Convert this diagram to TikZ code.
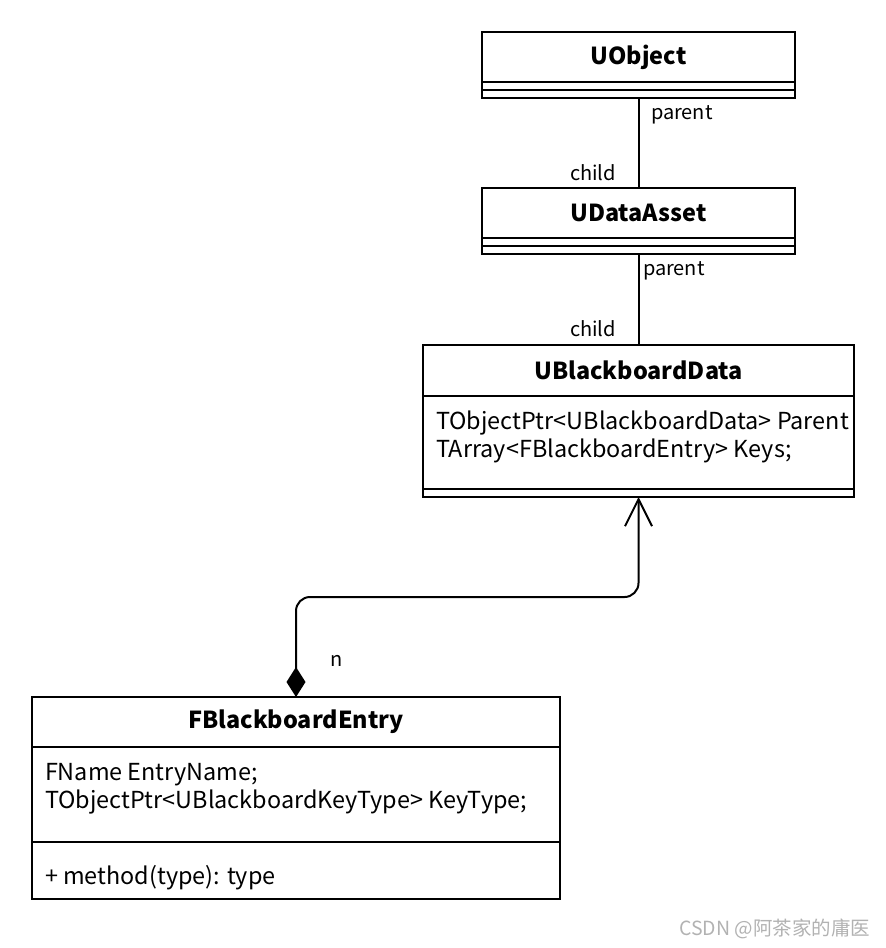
\documentclass[tikz,border=0pt]{standalone}
\usepackage{fontspec}
\setmainfont{Noto Sans CJK SC}
\newfontfamily\cjkfont{Noto Sans CJK SC}
\usetikzlibrary{arrows.meta,positioning}

\begin{document}
\begin{tikzpicture}[x=1pt,y=-1pt,line width=2pt,font=\fontsize{23.4}{28}\selectfont,
    box/.style={draw, anchor=north west, inner sep=0pt, outer sep=0pt},
    title/.style={box, font=\fontsize{23.4}{28}\selectfont\bfseries},
    attr/.style={anchor=north west, align=left, inner sep=0pt},
    lbl/.style={inner sep=0pt, font=\fontsize{20}{24}\selectfont}]
    \useasboundingbox (0,0) rectangle (886,948);

    % UObject
    \node[title, minimum width=313, minimum height=50] (uobj) at (482,32) {UObject};
    \node[box, minimum width=313, minimum height=8] (uobj-a) at (uobj.south west) {};
    \node[box, minimum width=313, minimum height=8] (uobj-m) at (uobj-a.south west) {};

    % UDataAsset
    \node[title, minimum width=313, minimum height=50] (uda) at (482,188) {UDataAsset};
    \node[box, minimum width=313, minimum height=8] (uda-a) at (uda.south west) {};
    \node[box, minimum width=313, minimum height=8] (uda-m) at (uda-a.south west) {};

    % UBlackboardData
    \node[title, minimum width=431, minimum height=51] (ubd) at (423,345) {UBlackboardData};
    \node[box, minimum width=431, minimum height=93] (ubd-a) at (ubd.south west) {};
    \node[box, minimum width=431, minimum height=8] (ubd-m) at (ubd-a.south west) {};
    \node[attr] (ubd-txt) at (435,410) {TObjectPtr<UBlackboardData> Parent\\TArray<FBlackboardEntry> Keys;};

    % FBlackboardEntry
    \node[title, minimum width=528, minimum height=50] (entry) at (32,697) {FBlackboardEntry};
    \node[box, minimum width=528, minimum height=95] (entry-a) at (entry.south west) {};
    \node[box, minimum width=528, minimum height=57] (entry-m) at (entry-a.south west) {};
    \node[attr] (entry-txt) at (44,762) {FName EntryName;\\TObjectPtr<UBlackboardKeyType> KeyType;};
    \node[attr] (entry-op) at (44,864) {+ method(type): type};

    % inheritance lines
    \draw (uobj-m.south) -- (uda.north);
    \node[lbl, anchor=west] (p1) at (650,115) {parent};
    \node[lbl, anchor=east] (c1) at (617,173) {child};
    \draw (uda-m.south) -- (ubd.north);
    \node[lbl, anchor=west] (p2) at (642,271) {parent};
    \node[lbl, anchor=east] (c2) at (617,329) {child};

    % composition
    \draw[rounded corners=14pt, {Diamond[length=30pt,width=19pt]}-{Straight Barb[length=27pt,width=27pt]}]
        (entry.north) -- ++(0,-100) -| (ubd-m.south);
    \node[lbl, anchor=west] (mult) at (329,661) {n};

    % watermark
    \node[inner sep=0pt, anchor=east, text=gray!60, font=\cjkfont\fontsize{19.5}{22}\selectfont] (wm) at (871,929) {CSDN @阿茶家的庸医};
\end{tikzpicture}
\end{document}
